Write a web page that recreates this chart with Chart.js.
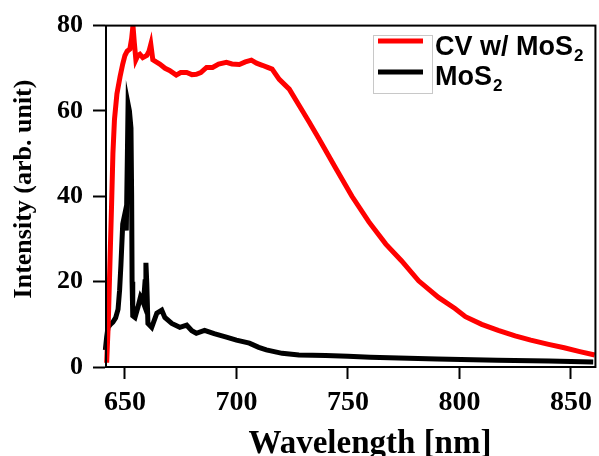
<!DOCTYPE html>
<html>
<head>
<meta charset="utf-8">
<script src="https://cdn.jsdelivr.net/npm/chart.js@4"></script>
<style>
  html, body { margin: 0; padding: 0; background: #fff; }
  canvas { display: block; }
</style>
</head>
<body>
<canvas id="pl-chart" width="599" height="456"></canvas>
<script>
// wavelength (nm) / intensity (arb. unit)
const cvWave = [641.8, 642.5, 643.3, 644.0, 644.6, 645.3, 646.4, 647.8, 649, 650, 651, 652.2, 653, 653.6, 654.2, 654.9,
    655.8, 656.7, 658, 659.8, 660.8, 661.6, 662.5, 664, 665.6, 668, 670, 673, 675, 677.7, 680, 682, 684, 686.6,
    689.3, 692, 695.5, 698, 701.3, 704, 706.7, 709, 711.6, 714, 716, 719.2, 723.7, 728, 732.6, 737, 744.6, 751.8,
    759.4, 767, 774, 781.7, 790.6, 798, 802.7, 810, 817.4, 825, 832, 840, 847, 854, 860.7];
const cvInt = [1, 10, 25, 38, 50, 58, 64, 68, 71, 73, 74, 74.5, 77, 80, 76, 72,
    73, 73.3, 72.5, 73, 74, 75.6, 72, 71.5, 71, 70, 69.5, 68.4, 69, 69, 68.5, 68.6, 69, 70.2,
    70.2, 71, 71.4, 71, 70.9, 71.5, 71.9, 71.2, 70.7, 70.2, 69.8, 67.4, 65.1, 61.4, 57.4, 53.5, 46.5, 40,
    34, 28.8, 24.9, 20.2, 16.3, 13.7, 11.8, 10, 8.6, 7.3, 6.3, 5.3, 4.5, 3.6, 2.8];

const mosWave = [641.2, 641.8, 642.4, 643.5, 644.6, 645.8, 646.9, 647.6, 648.2, 649, 650, 650.6, 651.1, 651.4, 652,
    652.7, 653, 653.2, 653.5, 654.5, 655.8, 657, 657.6, 658.3, 659, 659.4, 659.8, 660.3, 662, 664.3, 666.5, 667.9,
    671, 674.6, 677.7, 680, 682, 685.7, 690, 695.5, 700, 705.8, 710, 713.4, 720.5, 728, 740, 750, 760, 772.8,
    790, 817, 840, 860];
const mosInt = [4, 7, 9.3, 10, 10.5, 11.5, 13.5, 18, 24, 33.5, 36, 32, 50, 61.6, 60,
    56, 40, 20, 12, 11.6, 14, 16.5, 16, 15, 20, 24.4, 19.5, 10.2, 9.3, 12.6, 13.3, 11.6,
    10.2, 9.3, 9.8, 8.5, 7.9, 8.6, 7.8, 7, 6.3, 5.6, 4.6, 4, 3.2, 2.8, 2.7, 2.5, 2.3, 2.1,
    1.9, 1.6, 1.4, 1.2];

const seriesNames = ['CV w/ MoS2', 'MoS2'];
const seriesColors = ['#ff0000', '#000000'];
const xTicks = [650, 700, 750, 800, 850];
const yTicks = [0, 20, 40, 60, 80];

const serif = "'Liberation Serif', 'Times New Roman', serif";
const sans = "'Liberation Sans', Arial, sans-serif";

function toPoints(xs, ys) {
    return xs.map((x, i) => ({ x: x, y: ys[i] }));
}

// box around the plot, ticks only on left/bottom
const frame = {
    id: 'frame',
    afterDatasetsDraw(chart) {
        const { ctx, chartArea: a } = chart;
        ctx.save();
        ctx.strokeStyle = '#000';
        ctx.lineWidth = 2;
        ctx.strokeRect(a.left, a.top, a.right - a.left, a.bottom - a.top);
        ctx.restore();
    }
};

// axis titles drawn by hand so they sit where the original has them
const axisTitles = {
    id: 'axisTitles',
    afterDraw(chart) {
        const ctx = chart.ctx;
        ctx.save();
        ctx.fillStyle = '#000';
        ctx.textAlign = 'center';
        ctx.textBaseline = 'alphabetic';
        ctx.font = 'bold 33px ' + serif;
        ctx.fillText('Wavelength [nm]', 370, 453);
        ctx.translate(31, 189);
        ctx.rotate(-Math.PI / 2);
        ctx.font = 'bold 26px ' + serif;
        ctx.fillText('Intensity (arb. unit)', 0, 0);
        ctx.restore();
    }
};

// legend: sample lines in a thin grey box, names with subscript digit
const legendBox = {
    id: 'legendBox',
    afterDraw(chart) {
        const ctx = chart.ctx;
        ctx.save();
        ctx.strokeStyle = '#c8c8c8';
        ctx.lineWidth = 1;
        ctx.strokeRect(373.5, 35.5, 59, 58);
        const rows = [41, 72];
        const baselines = [55, 85];
        chart.data.datasets.forEach((ds, i) => {
            ctx.strokeStyle = ds.borderColor;
            ctx.lineWidth = 5;
            ctx.beginPath();
            ctx.moveTo(378, rows[i]);
            ctx.lineTo(423, rows[i]);
            ctx.stroke();

            const label = ds.label;
            const main = label.slice(0, -1);
            const sub = label.slice(-1);
            ctx.fillStyle = '#000';
            ctx.textAlign = 'left';
            ctx.textBaseline = 'alphabetic';
            ctx.font = 'bold 27px ' + sans;
            ctx.fillText(main, 435, baselines[i]);
            const w = ctx.measureText(main).width;
            ctx.font = 'bold 17px ' + sans;
            ctx.fillText(sub, 435 + w + 1, baselines[i] + 6);
        });
        ctx.restore();
    }
};

const ctx = document.getElementById('pl-chart').getContext('2d');
const chart = new Chart(ctx, {
    type: 'line',
    data: {
        datasets: [
            {
                label: seriesNames[0],
                data: toPoints(cvWave, cvInt),
                borderColor: seriesColors[0],
                borderWidth: 5,
                pointRadius: 0,
                tension: 0,
                clip: 4
            },
            {
                label: seriesNames[1],
                data: toPoints(mosWave, mosInt),
                borderColor: seriesColors[1],
                borderWidth: 5,
                pointRadius: 0,
                tension: 0,
                clip: 4
            }
        ]
    },
    options: {
        responsive: false,
        animation: false,
        layout: { padding: { top: 23, right: 2, left: 0, bottom: 0 } },
        plugins: {
            legend: { display: false },
            tooltip: { enabled: false }
        },
        scales: {
            x: {
                type: 'linear',
                min: 641.5,
                max: 861,
                afterFit: (s) => { s.height = 89; },
                afterBuildTicks: (s) => { s.ticks = xTicks.map(v => ({ value: v })); },
                border: { display: true, color: '#000', width: 2 },
                grid: { drawOnChartArea: false, drawTicks: true, tickLength: 12, tickWidth: 2, tickColor: '#000' },
                ticks: {
                    color: '#000',
                    font: { family: serif, weight: 'bold', size: 28 },
                    padding: 7,
                    maxRotation: 0,
                    autoSkip: false
                }
            },
            y: {
                min: 0,
                max: 80,
                afterFit: (s) => { s.width = 106; },
                afterBuildTicks: (s) => { s.ticks = yTicks.map(v => ({ value: v })); },
                border: { display: true, color: '#000', width: 2 },
                grid: { drawOnChartArea: false, drawTicks: true, tickLength: 13, tickWidth: 2, tickColor: '#000' },
                ticks: {
                    color: '#000',
                    font: { family: serif, weight: 'bold', size: 26 },
                    padding: 10
                }
            }
        }
    },
    plugins: [frame, axisTitles, legendBox]
});
</script>
</body>
</html>
